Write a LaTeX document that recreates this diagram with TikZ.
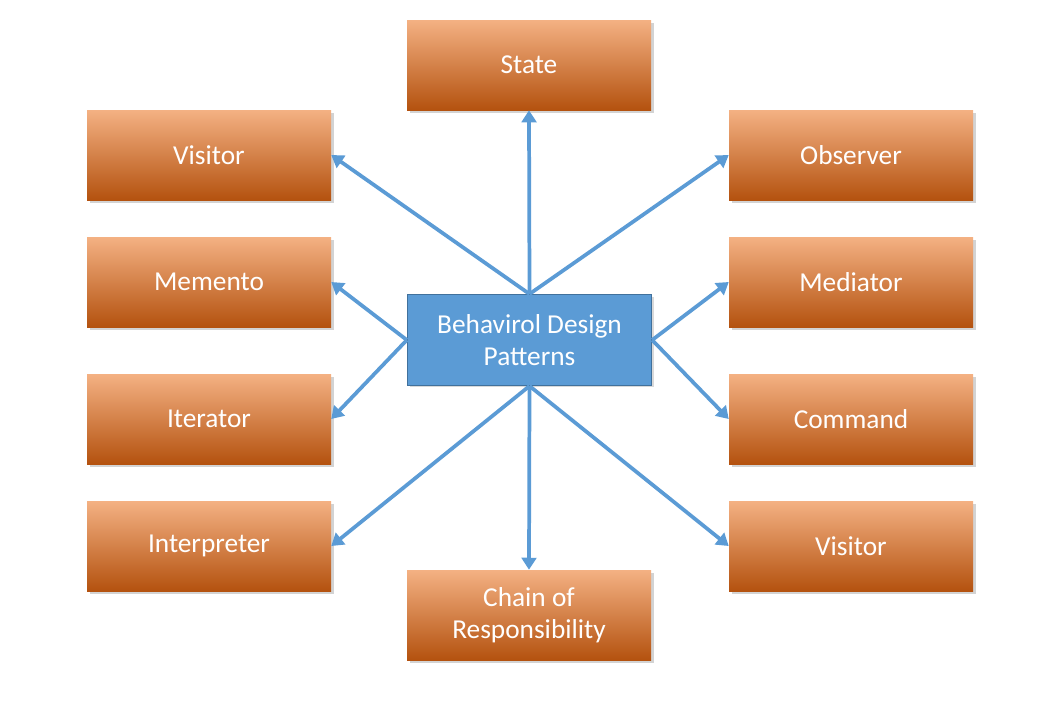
\documentclass[tikz,border=0pt]{standalone}
\usepackage{fontspec}
\setmainfont{Carlito}
\usepackage{tikz}
\usetikzlibrary{shadows,arrows.meta}
\definecolor{naranjaA}{HTML}{F4B183}
\definecolor{naranjaB}{HTML}{ED7D31}
\definecolor{naranjaC}{HTML}{B4520F}
\definecolor{azul}{HTML}{5B9BD5}
\definecolor{azulborde}{HTML}{41719C}
\tikzstyle{patron}=[rectangle, top color=naranjaA, middle color=naranjaB, bottom color=naranjaC, minimum width=183pt, minimum height=67.5pt, text=white, font=\fontsize{20.5}{24}\selectfont, align=center, drop shadow={shadow xshift=2pt, shadow yshift=-2pt, opacity=0.35}]
\tikzstyle{central}=[rectangle, fill=azul, draw=azulborde, line width=1pt, minimum width=183pt, minimum height=68pt, text=white, font=\fontsize{20.5}{24}\selectfont, align=center, drop shadow={shadow xshift=1.5pt, shadow yshift=-1.5pt, opacity=0.3}]
\tikzstyle{flecha}=[draw=azul, line width=2.8pt, -{Triangle[length=9pt, width=11pt]}]

\begin{document}
\begin{tikzpicture}[x=0.75pt, y=-0.75pt]
        \useasboundingbox (0,0) rectangle (1060,708);

        % Centro
        \node[central] (BDP) at (529.5,340) {Behavirol Design\\Patterns};

        % Arriba y abajo
        \node[patron] (State) at (529,65) {State};
        \node[patron] (Chain) at (529,615) {Chain of\\Responsibility};

        % Columna izquierda
        \node[patron] (VisitorL) at (209,155) {Visitor};
        \node[patron] (Memento) at (209,282) {Memento};
        \node[patron] (Iterator) at (209,419) {Iterator};
        \node[patron] (Interpreter) at (209,546) {Interpreter};

        % Columna derecha
        \node[patron] (Observer) at (851,155) {Observer};
        \node[patron] (Mediator) at (851,282) {Mediator};
        \node[patron] (Command) at (851,419) {Command};
        \node[patron] (VisitorR) at (851,546) {Visitor};

        % Conexiones
        \draw[flecha] (BDP.north) -- (State.south);
        \draw[flecha] (BDP.north) -- (VisitorL.east);
        \draw[flecha] (BDP.north) -- (Observer.west);

        \draw[flecha] (BDP.west) -- (Memento.east);
        \draw[flecha] (BDP.west) -- (Iterator.east);
        \draw[flecha] (BDP.east) -- (Mediator.west);
        \draw[flecha] (BDP.east) -- (Command.west);

        \draw[flecha] (BDP.south) -- (Interpreter.east);
        \draw[flecha] (BDP.south) -- (Chain.north);
        \draw[flecha] (BDP.south) -- (VisitorR.west);
    \end{tikzpicture}
\end{document}
